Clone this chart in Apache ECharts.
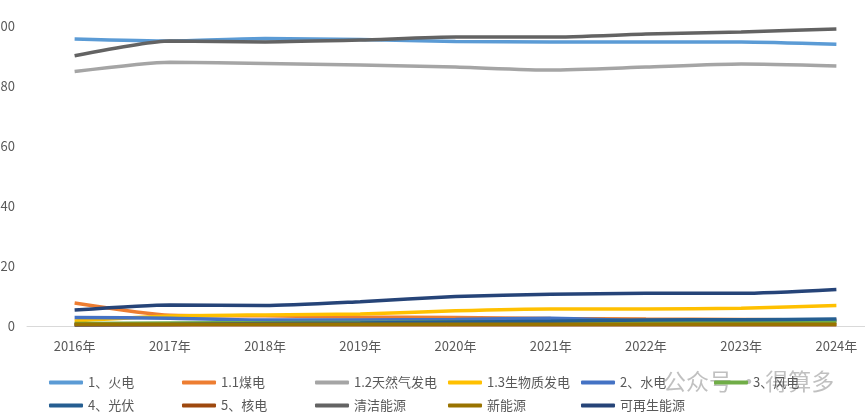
<!DOCTYPE html>
<html>
<head>
<meta charset="utf-8">
<script src="https://cdn.jsdelivr.net/npm/echarts@6/dist/echarts.min.js"></script>
<style>
  html, body { margin: 0; padding: 0; background: #fff; }
  #main { width: 865px; height: 419px; }
</style>
</head>
<body>
<div id="main"></div>
<script>
// 年份
const years = ['2016年', '2017年', '2018年', '2019年', '2020年', '2021年', '2022年', '2023年', '2024年']

// 各类电源数值
const huoDian = [95.7, 95.0, 95.8, 95.5, 94.8, 94.7, 94.7, 94.7, 93.9]
const meiDian = [7.7, 3.6, 3.4, 3.0, 2.8, 2.5, 2.3, 2.2, 2.0]
const tianRanQi = [84.8, 87.9, 87.5, 87.0, 86.3, 85.3, 86.3, 87.3, 86.7]
const shengWuZhi = [1.7, 3.3, 3.7, 4.0, 5.1, 5.7, 5.7, 5.9, 6.8]
const shuiDian = [2.8, 2.6, 2.0, 2.0, 2.2, 2.6, 1.8, 1.8, 1.8]
const fengDian = [0.8, 1.0, 1.1, 1.2, 1.3, 1.4, 1.3, 1.4, 1.4]
const guangFu = [0.3, 0.5, 0.8, 1.0, 1.3, 1.6, 2.0, 2.1, 2.3]
const heDian = [0.4, 0.4, 0.4, 0.4, 0.4, 0.4, 0.4, 0.4, 0.4]
const qingJie = [90.1, 95.0, 94.7, 95.3, 96.3, 96.3, 97.3, 98.0, 99.0]
const xinNengYuan = [0.6, 0.6, 0.6, 0.6, 0.6, 0.6, 0.6, 0.6, 0.6]
const keZaiSheng = [5.3, 7.0, 6.8, 8.1, 9.8, 10.6, 10.9, 10.9, 12.2]

// y 轴刻度
const yTicks = [0, 20, 40, 60, 80, 100]

const seriesDefs = [
  { name: '1、火电', data: huoDian, color: '#5B9BD5' },
  { name: '1.1煤电', data: meiDian, color: '#ED7D31' },
  { name: '1.2天然气发电', data: tianRanQi, color: '#A5A5A5' },
  { name: '1.3生物质发电', data: shengWuZhi, color: '#FFC000' },
  { name: '2、水电', data: shuiDian, color: '#4472C4' },
  { name: '3、风电', data: fengDian, color: '#70AD47' },
  { name: '4、光伏', data: guangFu, color: '#255E91' },
  { name: '5、核电', data: heDian, color: '#9E480E' },
  { name: '清洁能源', data: qingJie, color: '#636363' },
  { name: '新能源', data: xinNengYuan, color: '#997300' },
  { name: '可再生能源', data: keZaiSheng, color: '#264478' }
]

const font = '"Noto Sans CJK SC", "Noto Sans", sans-serif'
const chart = echarts.init(document.getElementById('main'))

chart.setOption({
  animation: false,
  color: seriesDefs.map(s => s.color),
  grid: {
    left: 27,
    top: 26,
    width: 857,
    height: 300,
    containLabel: false,
    outerBoundsMode: 'none'
  },
  legend: {
    left: 44,
    top: 368,
    width: 800,
    icon: 'roundRect',
    itemWidth: 34,
    itemHeight: 4,
    itemGap: 4,
    textStyle: {
      fontFamily: font,
      fontSize: 13,
      color: '#595959',
      width: 90,
      lineHeight: 19,
      overflow: 'none'
    },
    data: seriesDefs.map(s => s.name)
  },
  xAxis: {
    type: 'category',
    data: years,
    boundaryGap: true,
    axisLine: { lineStyle: { color: '#D9D9D9', width: 1 } },
    axisTick: { show: false },
    axisLabel: {
      margin: 14,
      fontFamily: font,
      fontSize: 13,
      color: '#595959'
    }
  },
  yAxis: {
    type: 'value',
    min: yTicks[0],
    max: yTicks[yTicks.length - 1],
    interval: yTicks[1] - yTicks[0],
    axisLine: { show: false },
    axisTick: { show: false },
    splitLine: { show: false },
    axisLabel: {
      margin: 12,
      fontFamily: font,
      fontSize: 13,
      color: '#595959'
    }
  },
  graphic: [
    {
      type: 'text',
      left: 663,
      top: 370,
      silent: true,
      style: {
        text: '公众号 · 得算多',
        fontFamily: font,
        fontSize: 23,
        fill: 'rgba(140,140,140,0.55)'
      }
    }
  ],
  series: seriesDefs.map(s => ({
    name: s.name,
    type: 'line',
    data: s.data,
    smooth: 0.2,
    symbol: 'none',
    lineStyle: { width: 3.5, color: s.color }
  }))
})
</script>
</body>
</html>
